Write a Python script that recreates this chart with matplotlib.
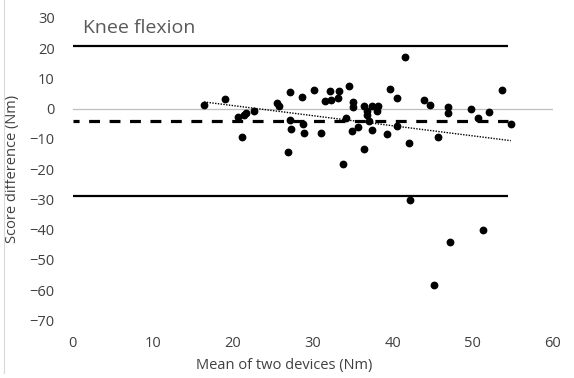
import numpy as np
import matplotlib.pyplot as plt
from matplotlib.lines import Line2D

# Bland-Altman data: mean of the two devices vs score difference (Nm)
mean_nm = [16.4, 19.0, 20.6, 21.4, 21.7, 21.2, 22.7, 25.5, 25.8, 27.1,
           27.1, 27.3, 26.9, 28.6, 28.8, 28.9, 30.2, 31.0, 31.5, 32.2,
           32.3, 33.2, 33.3, 34.5, 34.1, 33.8, 34.9, 35.0, 35.0, 35.6,
           36.4, 36.4, 36.75, 36.8, 37.0, 37.4, 37.4, 38.0, 38.2, 39.3,
           39.6, 40.5, 40.5, 41.5, 42.0, 42.2, 43.9, 44.7, 45.1, 45.7,
           46.9, 46.9, 47.2, 49.8, 50.6, 51.3, 52.0, 53.7, 54.75]
diff_nm = [1.2, 3.2, -2.9, -2.2, -1.5, -9.5, -0.7, 2.0, 0.8, 5.5,
           -3.8, -6.7, -14.4, 3.7, -5.2, -8.1, 6.2, -8.0, 2.6, 5.9,
           3.0, 3.6, 5.7, 7.3, -3.2, -18.3, -7.5, 2.2, 0.6, -6.2,
           0.9, -13.3, -0.8, -2.1, -4.1, -7.0, 0.9, -0.8, 0.9, -8.3,
           6.5, 3.6, -5.9, 17.1, -11.5, -30.3, 3.0, 1.3, -58.4, -9.5,
           0.6, -1.5, -43.9, 0.0, -3.0, -40.1, -1.2, 6.3, -5.1]

bias = -4.1
loa_upper = 20.6
loa_lower = -28.9
line_end = 54.4

x_ticks = [0, 10, 20, 30, 40, 50, 60]
y_ticks = [30, 20, 10, 0, -10, -20, -30, -40, -50, -60, -70]

FONT = ["Open Sans", "DejaVu Sans"]
TXT = "#404040"

fig = plt.figure(figsize=(5.74, 3.78), dpi=100)
ax = fig.add_axes([0.127, 0.152, 0.836, 0.801])

ax.axhline(0, color="#bfbfbf", lw=0.9, zorder=1)

ax.plot([0, line_end], [loa_upper, loa_upper], c="black", lw=1.6, solid_capstyle="butt")
ax.plot([0, line_end], [loa_lower, loa_lower], c="black", lw=1.6, solid_capstyle="butt")
ax.plot([0, line_end], [bias, bias], c="black", lw=2.3,
        linestyle=(1.5, (3.4, 3.0)), dash_capstyle="butt")

# linear trend of the differences
x = np.array(mean_nm)
y = np.array(diff_nm)
slope, icpt = np.polyfit(x, y, 1)
xt = np.array([x.min(), x.max()])
ax.plot(xt, slope * xt + icpt, c="black", lw=1.0, linestyle=(0, (1, 1)))

ax.plot(x, y, "o", c="black", ms=4.6, zorder=5)

ax.text(1.25, 26.6, "Knee flexion", fontsize=14, color="#595959",
        family=FONT, va="center", ha="left")

ax.set_xlim(0, 60)
ax.set_ylim(-70, 30)
ax.set_xticks(x_ticks)
ax.set_yticks(y_ticks)
ax.tick_params(length=0, labelsize=10.5, labelcolor=TXT)
ax.tick_params(axis="y", pad=13)
ax.tick_params(axis="x", pad=11)
for lab in ax.get_xticklabels() + ax.get_yticklabels():
    lab.set_family(FONT)
for s in ax.spines.values():
    s.set_visible(False)

ax.set_xlabel("Mean of two devices (Nm)", fontsize=10.5, color=TXT, family=FONT)
ax.set_ylabel("Score difference (Nm)", fontsize=10.5, color=TXT, family=FONT)
ax.xaxis.set_label_coords(0.44, -0.125)
ax.yaxis.set_label_coords(-0.11, 0.5)

fig.add_artist(Line2D([3.5 / 574, 3.5 / 574], [1.0, 1 - 373 / 378],
                      transform=fig.transFigure, color="#d9d9d9", lw=0.8))

fig.savefig("out.png", dpi=100)
